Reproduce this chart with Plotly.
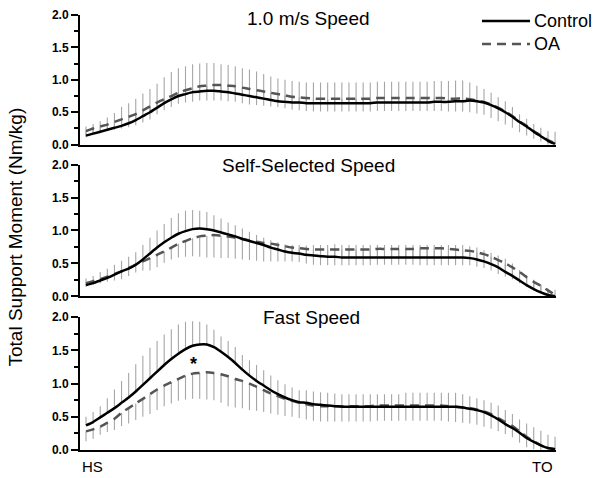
import plotly.graph_objects as go

# ---------------- data ----------------
n_samples = 67
stance_pct = [round(i * 100 / 66, 3) for i in range(n_samples)]  # HS (0 %) -> TO (100 %)

panel_titles = ["1.0 m/s Speed", "Self-Selected Speed", "Fast Speed"]
series_names = ["Control", "OA"]
end_labels = ["HS", "TO"]

top_control = [0.14, 0.17, 0.20, 0.23, 0.26, 0.29, 0.33, 0.38, 0.44, 0.50,
               0.57, 0.64, 0.70, 0.75, 0.78, 0.81, 0.82, 0.83, 0.83, 0.82,
               0.81, 0.79, 0.77, 0.75, 0.73, 0.71, 0.69, 0.67, 0.66, 0.65,
               0.65, 0.64, 0.64, 0.64, 0.64, 0.64, 0.64, 0.64, 0.64, 0.64,
               0.64, 0.65, 0.65, 0.65, 0.65, 0.65, 0.65, 0.65, 0.65, 0.66,
               0.66, 0.66, 0.67, 0.67, 0.68, 0.67, 0.65, 0.61, 0.56, 0.50,
               0.43, 0.35, 0.28, 0.20, 0.13, 0.06, 0.01]
top_control_sd = [0.14, 0.15, 0.16, 0.19, 0.23, 0.29, 0.31, 0.33, 0.35, 0.36,
                  0.37, 0.40, 0.42, 0.43, 0.43, 0.43, 0.43, 0.43, 0.43, 0.42,
                  0.42, 0.42, 0.41, 0.41, 0.40, 0.38, 0.36, 0.35, 0.34, 0.33,
                  0.32, 0.32, 0.32, 0.32, 0.32, 0.32, 0.32, 0.32, 0.32, 0.32,
                  0.32, 0.32, 0.32, 0.32, 0.32, 0.32, 0.32, 0.32, 0.32, 0.32,
                  0.32, 0.32, 0.32, 0.32, 0.28, 0.24, 0.21, 0.19, 0.17, 0.17,
                  0.15, 0.12, 0.12, 0.12, 0.13, 0.15, 0.19]
top_oa = [0.21, 0.25, 0.28, 0.31, 0.35, 0.39, 0.43, 0.47, 0.53, 0.59,
          0.65, 0.70, 0.75, 0.80, 0.84, 0.87, 0.90, 0.91, 0.92, 0.92,
          0.91, 0.90, 0.88, 0.86, 0.84, 0.82, 0.80, 0.78, 0.76, 0.74,
          0.73, 0.72, 0.71, 0.71, 0.71, 0.71, 0.71, 0.71, 0.71, 0.71,
          0.71, 0.72, 0.72, 0.72, 0.72, 0.72, 0.72, 0.72, 0.72, 0.72,
          0.72, 0.71, 0.71, 0.71, 0.70, 0.68, 0.66, 0.62, 0.57, 0.51,
          0.44, 0.36, 0.29, 0.21, 0.14, 0.07, 0.02]
top_oa_sd = [0.10, 0.09, 0.09, 0.10, 0.12, 0.14, 0.16, 0.17, 0.19, 0.20,
             0.18, 0.17, 0.17, 0.17, 0.19, 0.21, 0.22, 0.23, 0.24, 0.24,
             0.24, 0.24, 0.24, 0.24, 0.23, 0.22, 0.21, 0.20, 0.20, 0.20,
             0.20, 0.20, 0.20, 0.20, 0.20, 0.20, 0.20, 0.20, 0.20, 0.20,
             0.20, 0.20, 0.20, 0.20, 0.20, 0.20, 0.20, 0.20, 0.20, 0.20,
             0.20, 0.20, 0.20, 0.20, 0.20, 0.20, 0.20, 0.21, 0.21, 0.20,
             0.18, 0.17, 0.15, 0.12, 0.09, 0.07, 0.02]

mid_control = [0.17, 0.20, 0.24, 0.28, 0.33, 0.38, 0.42, 0.48, 0.56, 0.65,
               0.74, 0.82, 0.89, 0.95, 0.99, 1.02, 1.03, 1.02, 1.00, 0.97,
               0.94, 0.91, 0.87, 0.84, 0.81, 0.78, 0.74, 0.71, 0.68, 0.66,
               0.65, 0.63, 0.62, 0.61, 0.60, 0.60, 0.59, 0.59, 0.59, 0.59,
               0.59, 0.59, 0.59, 0.59, 0.59, 0.59, 0.59, 0.59, 0.59, 0.59,
               0.59, 0.59, 0.59, 0.59, 0.58, 0.56, 0.53, 0.49, 0.44, 0.37,
               0.31, 0.24, 0.17, 0.11, 0.06, 0.02, 0.00]
mid_control_sd = [0.10, 0.11, 0.13, 0.14, 0.15, 0.16, 0.18, 0.19, 0.22, 0.24,
                  0.26, 0.28, 0.30, 0.31, 0.31, 0.29, 0.27, 0.26, 0.23, 0.21,
                  0.18, 0.17, 0.16, 0.14, 0.12, 0.11, 0.11, 0.11, 0.11, 0.12,
                  0.13, 0.14, 0.16, 0.17, 0.18, 0.19, 0.19, 0.19, 0.19, 0.19,
                  0.19, 0.19, 0.19, 0.19, 0.19, 0.19, 0.19, 0.19, 0.19, 0.19,
                  0.19, 0.19, 0.19, 0.19, 0.18, 0.18, 0.17, 0.17, 0.18, 0.20,
                  0.19, 0.16, 0.15, 0.14, 0.12, 0.10, 0.10]
mid_oa = [0.20, 0.23, 0.26, 0.30, 0.34, 0.38, 0.43, 0.48, 0.53, 0.58,
          0.63, 0.68, 0.74, 0.80, 0.84, 0.88, 0.91, 0.92, 0.93, 0.92,
          0.91, 0.89, 0.87, 0.85, 0.83, 0.81, 0.80, 0.78, 0.76, 0.74,
          0.73, 0.72, 0.71, 0.71, 0.71, 0.71, 0.71, 0.71, 0.71, 0.71,
          0.71, 0.72, 0.72, 0.72, 0.72, 0.72, 0.72, 0.73, 0.73, 0.73,
          0.73, 0.72, 0.71, 0.70, 0.69, 0.67, 0.64, 0.60, 0.55, 0.50,
          0.44, 0.37, 0.29, 0.22, 0.16, 0.09, 0.02]
mid_oa_sd = [0.06, 0.06, 0.06, 0.08, 0.10, 0.12, 0.12, 0.12, 0.14, 0.19,
             0.19, 0.17, 0.18, 0.21, 0.24, 0.27, 0.31, 0.33, 0.34, 0.34,
             0.33, 0.32, 0.31, 0.30, 0.29, 0.28, 0.27, 0.25, 0.23, 0.21,
             0.21, 0.22, 0.23, 0.24, 0.24, 0.24, 0.24, 0.24, 0.24, 0.24,
             0.24, 0.24, 0.24, 0.24, 0.24, 0.24, 0.24, 0.26, 0.26, 0.26,
             0.26, 0.25, 0.24, 0.23, 0.22, 0.22, 0.21, 0.21, 0.21, 0.20,
             0.18, 0.17, 0.15, 0.13, 0.11, 0.08, 0.02]

fast_control = [0.37, 0.42, 0.49, 0.56, 0.63, 0.71, 0.79, 0.88, 0.98, 1.08,
                1.18, 1.28, 1.37, 1.45, 1.52, 1.57, 1.59, 1.59, 1.55, 1.48,
                1.40, 1.31, 1.21, 1.12, 1.04, 0.97, 0.90, 0.84, 0.79, 0.75,
                0.72, 0.71, 0.69, 0.68, 0.67, 0.66, 0.65, 0.65, 0.65, 0.65,
                0.65, 0.65, 0.65, 0.65, 0.65, 0.65, 0.65, 0.65, 0.65, 0.65,
                0.65, 0.65, 0.65, 0.64, 0.62, 0.60, 0.57, 0.52, 0.46, 0.39,
                0.33, 0.26, 0.18, 0.12, 0.07, 0.03, 0.01]
fast_control_sd = [0.13, 0.15, 0.17, 0.22, 0.28, 0.33, 0.37, 0.41, 0.44, 0.46,
                   0.46, 0.46, 0.45, 0.44, 0.41, 0.37, 0.34, 0.30, 0.26, 0.23,
                   0.24, 0.24, 0.22, 0.23, 0.24, 0.23, 0.22, 0.21, 0.20, 0.19,
                   0.18, 0.19, 0.19, 0.19, 0.19, 0.19, 0.19, 0.19, 0.19, 0.19,
                   0.19, 0.19, 0.19, 0.19, 0.19, 0.21, 0.21, 0.21, 0.21, 0.21,
                   0.21, 0.21, 0.21, 0.20, 0.19, 0.18, 0.18, 0.19, 0.21, 0.21,
                   0.21, 0.20, 0.22, 0.22, 0.22, 0.20, 0.19]
fast_oa = [0.28, 0.31, 0.35, 0.41, 0.47, 0.56, 0.63, 0.70, 0.77, 0.84,
           0.91, 0.97, 1.02, 1.07, 1.12, 1.15, 1.16, 1.17, 1.16, 1.14,
           1.11, 1.07, 1.04, 1.00, 0.95, 0.90, 0.85, 0.81, 0.77, 0.74,
           0.71, 0.69, 0.67, 0.66, 0.66, 0.66, 0.66, 0.66, 0.66, 0.66,
           0.66, 0.67, 0.67, 0.67, 0.67, 0.67, 0.67, 0.67, 0.67, 0.67,
           0.67, 0.66, 0.65, 0.64, 0.63, 0.61, 0.58, 0.54, 0.48, 0.42,
           0.36, 0.28, 0.20, 0.13, 0.07, 0.03, 0.01]
fast_oa_sd = [0.15, 0.14, 0.12, 0.14, 0.17, 0.20, 0.23, 0.25, 0.27, 0.30,
              0.31, 0.31, 0.32, 0.33, 0.36, 0.38, 0.39, 0.41, 0.41, 0.43,
              0.45, 0.43, 0.41, 0.40, 0.36, 0.33, 0.30, 0.28, 0.26, 0.24,
              0.23, 0.23, 0.23, 0.23, 0.23, 0.23, 0.23, 0.23, 0.23, 0.23,
              0.23, 0.23, 0.23, 0.23, 0.23, 0.23, 0.23, 0.23, 0.23, 0.23,
              0.23, 0.23, 0.23, 0.23, 0.23, 0.23, 0.23, 0.22, 0.20, 0.18,
              0.17, 0.17, 0.16, 0.12, 0.07, 0.03, 0.01]

# significance marker (fast speed, peak)
sig_x = 22.9
sig_y = 1.30

# ---------------- figure ----------------
FONT = "Liberation Sans, Arial, sans-serif"
BAR_COLOR = "#a6a6a6"
OA_COLOR = "#555555"
DASH = "9px,6px"

panels = [
    (top_control, top_control_sd, top_oa, top_oa_sd),
    (mid_control, mid_control_sd, mid_oa, mid_oa_sd),
    (fast_control, fast_control_sd, fast_oa, fast_oa_sd),
]
domains = [[0.7033, 0.9828], [0.3765, 0.6603], [0.0454, 0.3314]]

fig = go.Figure()
zeros = [0] * n_samples
for k, (c, csd, o, osd) in enumerate(panels):
    sfx = "" if k == 0 else str(k + 1)
    xa, ya = "x" + sfx, "y" + sfx
    # SD bars: Control upward, OA downward
    fig.add_trace(go.Scatter(
        x=stance_pct, y=c, mode="markers", marker=dict(size=1, opacity=0),
        error_y=dict(type="data", symmetric=False, array=csd, arrayminus=zeros,
                     width=0, thickness=1.1, color=BAR_COLOR),
        xaxis=xa, yaxis=ya, showlegend=False, hoverinfo="skip"))
    fig.add_trace(go.Scatter(
        x=stance_pct, y=o, mode="markers", marker=dict(size=1, opacity=0),
        error_y=dict(type="data", symmetric=False, array=zeros, arrayminus=osd,
                     width=0, thickness=1.1, color=BAR_COLOR),
        xaxis=xa, yaxis=ya, showlegend=False, hoverinfo="skip"))
    fig.add_trace(go.Scatter(
        x=stance_pct, y=o, mode="lines", name=series_names[1],
        line=dict(color=OA_COLOR, width=2.5, dash=DASH, shape="spline", smoothing=0.6),
        xaxis=xa, yaxis=ya, showlegend=False))
    fig.add_trace(go.Scatter(
        x=stance_pct, y=c, mode="lines", name=series_names[0],
        line=dict(color="black", width=2.5, shape="spline", smoothing=0.6),
        xaxis=xa, yaxis=ya, showlegend=False))

    fig.layout["xaxis" + sfx] = dict(
        domain=[0, 1], anchor=ya, range=[-1.28, 100.2],
        showline=True, linecolor="black", linewidth=2,
        showticklabels=False, ticks="", showgrid=False, zeroline=False)
    fig.layout["yaxis" + sfx] = dict(
        domain=domains[k], anchor=xa, range=[0, 2], dtick=0.5, tick0=0,
        tickformat=".1f", ticks="outside", ticklen=7, tickwidth=2, tickcolor="black",
        showline=True, linecolor="black", linewidth=2,
        showgrid=False, zeroline=False,
        tickfont=dict(family=FONT, size=12, color="black", weight="bold"),
        minor=dict(dtick=0.25, ticks="outside", ticklen=4, tickwidth=1.5,
                   tickcolor="black", showgrid=False))

ann = []
title_pos = [(0.479, 0.9742), (0.479, 0.6582), (0.487, 0.3314)]
for t, (px, py) in zip(panel_titles, title_pos):
    ann.append(dict(text=t, xref="paper", yref="paper", x=px, y=py,
                    xanchor="center", yanchor="middle", showarrow=False,
                    font=dict(family=FONT, size=19, color="black")))
ann.append(dict(text="Total Support Moment (Nm/kg)", xref="paper", yref="paper",
                x=-0.1345, y=0.5054, textangle=-90, xanchor="center", yanchor="middle",
                showarrow=False, font=dict(family=FONT, size=19, color="black")))
ann.append(dict(text=end_labels[0], xref="x3 domain", yref="paper", x=0.0, y=0.0088,
                xanchor="left", yanchor="middle", showarrow=False,
                font=dict(family=FONT, size=15, color="black")))
ann.append(dict(text=end_labels[1], xref="x3 domain", yref="paper", x=0.998, y=0.0088,
                xanchor="right", yanchor="middle", showarrow=False,
                font=dict(family=FONT, size=15, color="black")))
ann.append(dict(text="*", xref="x3", yref="y3", x=sig_x, y=sig_y,
                xanchor="center", yanchor="middle", showarrow=False,
                font=dict(family=FONT, size=18, color="black", weight="bold")))
# legend (drawn in paper space)
ann.append(dict(text=series_names[0], xref="paper", yref="paper", x=0.9496, y=0.9699,
                xanchor="left", yanchor="middle", showarrow=False,
                font=dict(family=FONT, size=18, color="black")))
ann.append(dict(text=series_names[1], xref="paper", yref="paper", x=0.9496, y=0.9205,
                xanchor="left", yanchor="middle", showarrow=False,
                font=dict(family=FONT, size=18, color="black")))

shapes = [
    dict(type="line", xref="paper", yref="paper", x0=0.8445, x1=0.9454, y0=0.9699, y1=0.9699,
         line=dict(color="black", width=2.5)),
    dict(type="line", xref="paper", yref="paper", x0=0.8445, x1=0.9454, y0=0.9205, y1=0.9205,
         line=dict(color=OA_COLOR, width=2.5, dash=DASH)),
]

fig.update_layout(
    width=600, height=478,
    margin=dict(l=80, r=44, t=0, b=0),
    paper_bgcolor="white", plot_bgcolor="white",
    showlegend=False,
    annotations=ann, shapes=shapes,
    font=dict(family=FONT, color="black"),
)

fig.write_html(
    "out.html",
    config={"displayModeBar": False},
    post_script="document.body.style.margin='0';document.body.style.overflow='hidden';",
)
